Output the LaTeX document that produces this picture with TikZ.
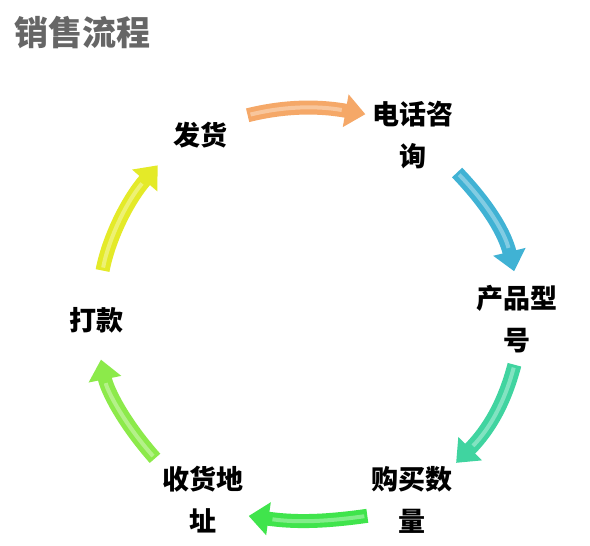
\documentclass[tikz,border=0pt]{standalone}
\usepackage{fontspec}
\newfontfamily\cjk{Noto Sans CJK SC}
\usetikzlibrary{arrows.meta}
\definecolor{arrOrange}{RGB}{245,168,104}
\definecolor{arrCyan}{RGB}{64,178,212}
\definecolor{arrTeal}{RGB}{64,212,160}
\definecolor{arrGreen}{RGB}{64,228,76}
\definecolor{arrLime}{RGB}{140,234,74}
\definecolor{arrYellow}{RGB}{228,234,40}
\begin{document}
\begin{tikzpicture}[x=1pt,y=1pt,
  lbl/.style={font=\cjk\bfseries\fontsize{27}{42}\selectfont,align=center,inner sep=2pt,text=black},
  ttl/.style={font=\cjk\bfseries\fontsize{34}{40}\selectfont,anchor=west,inner sep=0pt},
  flow/.style n args={3}{line width=14pt,draw=#1,-{Triangle[width=32pt,length=20pt]},
    shorten <=#2,shorten >=#3,
    postaction={draw=white,draw opacity=0.35,line width=4pt,-,shorten <=#2+3pt,shorten >=#3+24pt}}]

\fill[white] (0,0) rectangle (590,-546);
\useasboundingbox (0,0) rectangle (590,-546);

% Title.
\node[ttl,text=black!60] (ttl) at (14,-33) {销售流程};

% Steps round the circle.
\node[lbl] (fh) at (200,-135) {发货};
\node[lbl] (dh) at (413,-135) {电话咨\\询};
\node[lbl] (cp) at (517,-319) {产品型\\号};
\node[lbl] (gm) at (412,-500) {购买数\\量};
\node[lbl] (sh) at (203,-500) {收货地\\址};
\node[lbl] (dk) at (96,-320) {打款};

% Curved arrows, clockwise.
\draw[flow={arrOrange}{19pt}{5pt}] (fh.north east) to[bend left=12] (dh.155);
\draw[flow={arrCyan}{2pt}{12pt}] (dh.south east) to[bend left=15] (cp.north);
\draw[flow={arrTeal}{10pt}{2pt}] (cp.south) to[bend left=15] (gm.north east);
\draw[flow={arrGreen}{2pt}{3pt}] (gm.200) to[bend left=8] (sh.340);
\draw[flow={arrLime}{8pt}{25pt}] (sh.north west) to[bend left=15] (dk.south);
\draw[flow={arrYellow}{35pt}{20pt}] (dk.north) to[bend left=15] (fh.south west);
\end{tikzpicture}
\end{document}
